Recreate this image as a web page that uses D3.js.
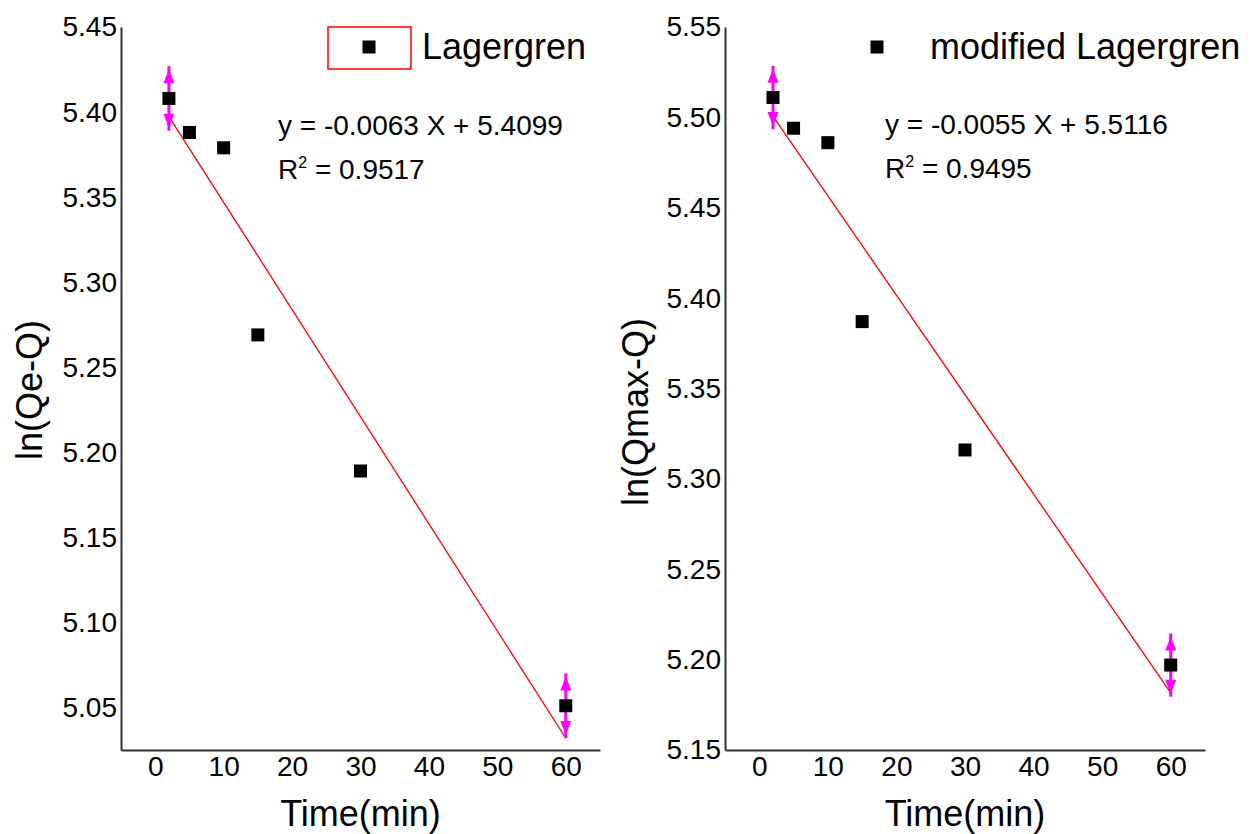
<!DOCTYPE html>
<html lang="en">
<head>
<meta charset="UTF-8">
<title>Lagergren kinetics</title>
<script src="https://d3js.org/d3.v7.min.js"></script>
<style>
  body { margin: 0; background: #fff; }
  text { font-family: Arial, "Liberation Sans", sans-serif; fill: #000; }
  .axis path { stroke: #333; stroke-width: 2; }
  .axis text { font-size: 28px; font-family: Arial, "Liberation Sans", sans-serif; fill: #000; }
  .fit { stroke: #ff0000; stroke-width: 1.3; fill: none; }
  .err { stroke: #ff00ff; stroke-width: 3; }
  .head { fill: #ff00ff; }
</style>
</head>
<body>
<script>
  // time points (min)
  var time = [2, 5, 10, 15, 30, 60];
  var xTicks = [0, 10, 20, 30, 40, 50, 60];

  // Lagergren: ln(Qe-Q)
  var lnQeQ = [5.408, 5.388, 5.379, 5.269, 5.189, 5.051];
  var errQeQ = [0.019, 0, 0, 0, 0, 0.019];
  var fitQeQ = {slope: -0.0063, intercept: 5.4099, r2: "0.9517"};
  var yTicksQeQ = [5.05, 5.10, 5.15, 5.20, 5.25, 5.30, 5.35, 5.40, 5.45];

  // modified Lagergren: ln(Qmax-Q)
  var lnQmaxQ = [5.511, 5.494, 5.486, 5.387, 5.316, 5.197];
  var errQmaxQ = [0.0175, 0, 0, 0, 0, 0.0175];
  var fitQmaxQ = {slope: -0.0055, intercept: 5.5116, r2: "0.9495"};
  var yTicksQmaxQ = [5.15, 5.20, 5.25, 5.30, 5.35, 5.40, 5.45, 5.50, 5.55];

  var svg = d3.select("body").append("svg")
      .attr("width", 1253)
      .attr("height", 834);

  function drawPanel(p) {
    var x = d3.scaleLinear().domain([-5, 65]).range(p.xRange);
    var y = d3.scaleLinear().domain(p.yDomain).range([750, 27]);
    var g = svg.append("g");

    // axes, no tick marks
    g.append("g")
        .attr("class", "axis")
        .attr("transform", "translate(0,750)")
        .call(d3.axisBottom(x).tickValues(xTicks).tickSize(0).tickPadding(6));
    g.append("g")
        .attr("class", "axis")
        .attr("transform", "translate(" + p.xRange[0] + ",0)")
        .call(d3.axisLeft(y).tickValues(p.yTicks).tickSize(0).tickPadding(4)
          .tickFormat(d3.format(".2f")));

    // linear fit
    var line = d3.line()
        .x(d => x(d))
        .y(d => y(p.fit.slope * d + p.fit.intercept));
    g.append("path")
        .datum([time[0], time[time.length - 1]])
        .attr("class", "fit")
        .attr("d", line);

    // error arrows
    var pts = time.map((t, i) => ({t: t, v: p.values[i], e: p.errors[i]}));
    var arrows = g.selectAll(".arrow").data(pts.filter(d => d.e > 0))
      .enter().append("g");
    arrows.append("line")
        .attr("class", "err")
        .attr("x1", d => x(d.t)).attr("x2", d => x(d.t))
        .attr("y1", d => y(d.v + d.e)).attr("y2", d => y(d.v - d.e));
    arrows.append("path")
        .attr("class", "head")
        .attr("d", d => {
          var cx = x(d.t), top = y(d.v + d.e) + 3, bot = y(d.v - d.e) - 3;
          return "M" + cx + "," + top + "L" + (cx - 5.5) + "," + (top + 14) + "L" + (cx + 5.5) + "," + (top + 14) + "Z" +
                 "M" + cx + "," + bot + "L" + (cx - 5.5) + "," + (bot - 14) + "L" + (cx + 5.5) + "," + (bot - 14) + "Z";
        });

    // markers
    g.selectAll(".pt").data(pts).enter().append("rect")
        .attr("x", d => x(d.t) - 6.5)
        .attr("y", d => y(d.v) - 6.5)
        .attr("width", 13).attr("height", 13)
        .attr("fill", "#000");

    // axis titles
    g.append("text")
        .attr("x", (p.xRange[0] + p.xRange[1]) / 2)
        .attr("y", 826)
        .attr("text-anchor", "middle")
        .style("font-size", "36px")
        .text("Time(min)");
    g.append("text")
        .attr("transform", "translate(" + p.yTitle[0] + "," + p.yTitle[1] + ") rotate(-90)")
        .attr("text-anchor", "middle")
        .style("font-size", "36px")
        .text(p.yLabel);

    // legend
    if (p.legendBox) {
      g.append("rect")
          .attr("x", p.legendBox[0]).attr("y", p.legendBox[1])
          .attr("width", p.legendBox[2]).attr("height", p.legendBox[3])
          .attr("fill", "none").attr("stroke", "#ff0000").attr("stroke-width", 1.5);
    }
    g.append("rect")
        .attr("x", p.legendMark[0] - 6.5).attr("y", p.legendMark[1] - 6.5)
        .attr("width", 13).attr("height", 13)
        .attr("fill", "#000");
    g.append("text")
        .attr("x", p.legendText[0]).attr("y", p.legendText[1])
        .style("font-size", "36px")
        .text(p.name);

    // equation
    var sign = p.fit.slope < 0 ? "-" : "";
    g.append("text")
        .attr("x", p.eq[0]).attr("y", p.eq[1])
        .style("font-size", "28px")
        .text("y = " + sign + Math.abs(p.fit.slope).toFixed(4) + " X + " + p.fit.intercept.toFixed(4));
    var r2 = g.append("text")
        .attr("x", p.eq[0]).attr("y", p.eq[1] + 44)
        .style("font-size", "28px");
    r2.append("tspan").text("R");
    r2.append("tspan").attr("dy", -11).style("font-size", "16px").text("2");
    r2.append("tspan").attr("dy", 11).text(" = " + p.fit.r2);
  }

  drawPanel({
    xRange: [121, 600], yDomain: [5.025, 5.45], yTicks: yTicksQeQ,
    values: lnQeQ, errors: errQeQ, fit: fitQeQ,
    yLabel: "ln(Qe-Q)", yTitle: [42, 390],
    name: "Lagergren", legendBox: [328, 27, 83, 42], legendMark: [369, 47], legendText: [422, 59],
    eq: [278, 135]
  });

  drawPanel({
    xRange: [725, 1205], yDomain: [5.15, 5.55], yTicks: yTicksQmaxQ,
    values: lnQmaxQ, errors: errQmaxQ, fit: fitQmaxQ,
    yLabel: "ln(Qmax-Q)", yTitle: [648, 412],
    name: "modified Lagergren", legendBox: null, legendMark: [877, 47], legendText: [930, 59],
    eq: [885, 134]
  });
</script>
</body>
</html>
